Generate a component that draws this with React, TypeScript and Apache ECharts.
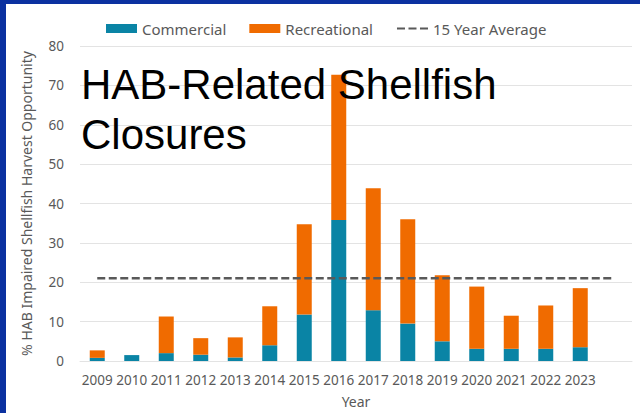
import React, { useEffect, useRef } from "react";
import * as echarts from "echarts";

const years = ["2009", "2010", "2011", "2012", "2013", "2014", "2015", "2016", "2017", "2018", "2019", "2020", "2021", "2022", "2023", ""];
const commercial = [0.8, 1.5, 2.0, 1.6, 0.9, 4.0, 11.8, 35.8, 12.9, 9.5, 5.0, 3.1, 3.1, 3.1, 3.5, null];
const recreational = [1.9, 0, 9.3, 4.2, 5.1, 9.9, 22.9, 36.9, 31.0, 26.5, 16.8, 15.8, 8.4, 11.0, 15.0, null];
const fifteenYearAverage = [21, 21, 21, 21, 21, 21, 21, 21, 21, 21, 21, 21, 21, 21, 21, 21];
const yTicks = { min: 0, max: 80, interval: 10 };
const titleText = "HAB-Related Shellfish\nClosures";

const TEAL = "#0a84a5";
const ORANGE = "#f06b00";
const GRAY = "#595959";
const FONT = "Noto Sans";

export default function App() {
  const ref = useRef<HTMLDivElement>(null);
  useEffect(() => {
    document.body.style.margin = "0";
    const chart = echarts.init(ref.current!, null, { renderer: "svg" });
    chart.setOption({
      animation: false,
      backgroundColor: "#ffffff",
      grid: { left: 80, right: 8, top: 46, bottom: 51, containLabel: false },
      legend: {
        left: 101,
        top: 16,
        itemWidth: 31,
        itemHeight: 9,
        itemGap: 23,
        textStyle: { color: GRAY, fontFamily: FONT, fontSize: 15 },
        data: [
          { name: "Commercial", icon: "rect" },
          { name: "Recreational", icon: "rect" },
          { name: "15 Year Average", itemStyle: { opacity: 0 } },
        ],
      },
      xAxis: {
        type: "category",
        data: years,
        name: "Year",
        nameLocation: "middle",
        nameGap: 33,
        nameTextStyle: { color: GRAY, fontFamily: FONT, fontSize: 14 },
        axisTick: { show: false },
        axisLine: { lineStyle: { color: "#e3e3e3", width: 1 } },
        axisLabel: { color: GRAY, fontFamily: FONT, fontSize: 13.5, margin: 12, interval: 0 },
      },
      yAxis: {
        type: "value",
        min: yTicks.min,
        max: yTicks.max,
        interval: yTicks.interval,
        name: "% HAB Impaired Shellfish Harvest Opportunity",
        nameLocation: "middle",
        nameGap: 47,
        nameTextStyle: { color: GRAY, fontFamily: FONT, fontSize: 14 },
        axisLabel: { color: GRAY, fontFamily: FONT, fontSize: 13.5, margin: 16 },
        splitLine: { lineStyle: { color: "#e3e3e3", width: 1 } },
      },
      series: [
        {
          name: "Commercial",
          type: "bar",
          stack: "total",
          barWidth: 15,
          itemStyle: { color: TEAL },
          data: commercial,
        },
        {
          name: "Recreational",
          type: "bar",
          stack: "total",
          barWidth: 15,
          itemStyle: { color: ORANGE },
          data: recreational,
        },
        {
          name: "15 Year Average",
          type: "line",
          showSymbol: false,
          symbol: "none",
          itemStyle: { color: GRAY },
          lineStyle: { color: GRAY, width: 2.5, type: [8, 3.5] },
          data: fifteenYearAverage,
          z: 5,
        },
      ],
      graphic: [
        { type: "rect", left: 0, top: 0, shape: { width: 6, height: 413 }, style: { fill: "#0b31a0" }, z: 100 },
        { type: "rect", left: 0, top: 0, shape: { width: 640, height: 4 }, style: { fill: "#0b31a0" }, z: 100 },
        {
          type: "text",
          left: 81,
          top: 59,
          z: 100,
          style: {
            text: titleText,
            fill: "#000000",
            font: '42px "Liberation Sans", Arial, sans-serif',
            lineHeight: 50,
          },
        },
      ],
    });
    return () => chart.dispose();
  }, []);
  return (
    <div
      ref={ref}
      style={{ position: "fixed", left: 0, top: 0, width: 640, height: 413 }}
    />
  );
}
